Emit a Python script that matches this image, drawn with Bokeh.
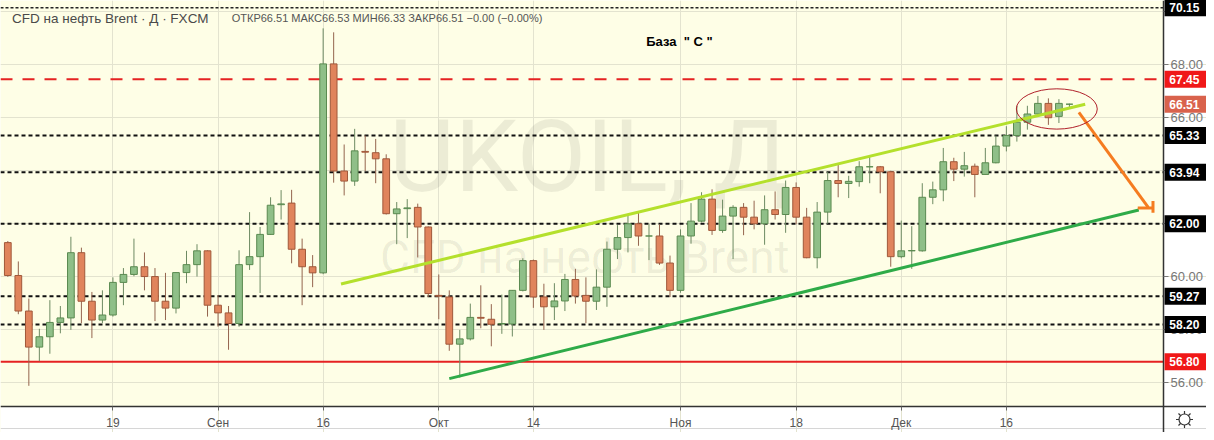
from bokeh.plotting import figure
from bokeh.models import Range1d, FixedTicker, Label, CustomJSTickFormatter, LinearAxis, Grid
from bokeh.core.properties import value
from bokeh.embed import file_html
from bokeh.resources import INLINE

# ---------------- data (daily CFD Brent, Aug 5 .. Dec 24 2019, trading days) ----------------
opens = [61.29, 60.05, 58.71, 57.35, 57.74, 58.28, 58.45, 60.91, 59.08, 58.37,
         58.56, 59.79, 60.09, 60.38, 60.01, 59.08, 58.82, 60.16, 60.46, 60.98,
         58.93, 58.64, 58.24, 60.46, 60.76, 61.60, 62.72, 62.78, 61.04, 60.38,
         60.15, 68.03, 63.99, 63.61, 64.73, 64.68, 64.45, 62.38, 62.57, 62.62,
         61.88, 59.30, 59.24, 57.46, 57.66, 58.47, 58.40, 58.22, 58.22, 59.49,
         60.61, 59.24, 58.87, 59.09, 59.90, 59.30, 59.08, 59.61, 61.04, 61.48,
         62.00, 61.54, 61.54, 60.52, 59.49, 61.54, 62.10, 62.93, 61.75, 62.29,
         62.62, 62.25, 62.00, 62.53, 62.35, 63.37, 62.25, 60.72, 62.44, 63.63,
         63.52, 63.59, 64.15, 64.15, 63.96, 60.76, 60.98, 60.98, 63.00, 63.28,
         64.34, 64.06, 64.17, 63.86, 64.30, 64.93, 65.33, 65.83, 66.14, 66.54,
         66.05, 66.51]
highs = [61.35, 60.58, 59.18, 58.04, 59.12, 58.90, 61.51, 61.10, 59.43, 59.49,
         59.98, 60.33, 61.44, 60.92, 60.33, 60.15, 60.18, 60.98, 61.23, 61.00,
         59.31, 58.90, 61.00, 62.44, 61.88, 63.00, 63.27, 63.28, 61.44, 60.82,
         69.37, 69.22, 64.99, 65.58, 65.33, 65.20, 64.62, 62.82, 62.93, 62.76,
         61.90, 60.09, 59.49, 58.00, 58.99, 59.68, 58.97, 59.33, 59.50, 60.70,
         60.65, 59.74, 59.76, 60.11, 60.30, 59.98, 60.28, 61.33, 61.95, 62.37,
         62.41, 62.00, 61.98, 60.80, 61.79, 62.78, 63.19, 63.30, 62.91, 62.70,
         62.78, 62.87, 63.07, 63.22, 63.63, 63.56, 62.60, 62.82, 63.96, 64.23,
         63.81, 64.36, 64.58, 64.18, 64.00, 62.12, 61.91, 63.53, 63.59, 64.86,
         64.49, 64.71, 64.27, 64.86, 65.33, 65.68, 66.45, 66.45, 66.82, 66.73,
         66.70, 66.53]
lows = [60.00, 58.59, 55.89, 56.82, 57.10, 57.87, 58.00, 58.25, 57.69, 58.25,
        58.50, 58.93, 60.02, 59.49, 58.33, 58.37, 58.62, 59.76, 60.01, 58.50,
        58.12, 57.25, 58.12, 60.26, 59.39, 61.58, 62.16, 60.51, 58.93, 59.61,
        60.10, 63.55, 63.07, 63.43, 63.99, 63.53, 62.35, 61.23, 61.46, 60.73,
        59.24, 58.40, 57.21, 56.20, 57.60, 58.06, 57.38, 57.85, 57.75, 59.45,
        58.83, 58.00, 58.37, 58.71, 58.99, 58.25, 58.75, 58.87, 60.67, 60.92,
        61.17, 60.63, 60.45, 59.24, 59.40, 61.25, 62.05, 61.58, 61.66, 60.67,
        61.57, 61.79, 61.21, 62.16, 61.66, 61.98, 60.70, 60.32, 62.00, 63.00,
        62.97, 63.40, 63.53, 63.15, 60.38, 60.70, 60.30, 60.95, 62.74, 62.85,
        63.61, 63.78, 63.00, 63.85, 64.28, 64.73, 65.10, 65.55, 66.10, 65.73,
        65.80, 66.33]
closes = [60.05, 58.71, 57.35, 57.74, 58.28, 58.45, 60.91, 59.08, 58.37, 58.56,
          59.79, 60.09, 60.38, 60.01, 59.08, 58.82, 60.16, 60.46, 60.98, 58.93,
          58.64, 58.24, 60.46, 60.76, 61.60, 62.70, 62.75, 61.04, 60.38, 60.15,
          68.03, 63.99, 63.61, 64.75, 64.70, 64.45, 62.38, 62.56, 62.60, 61.88,
          59.37, 59.27, 57.46, 57.66, 58.47, 58.44, 58.21, 58.24, 59.49, 60.61,
          59.24, 58.87, 59.09, 59.90, 59.28, 59.08, 59.61, 61.04, 61.48, 62.00,
          61.54, 61.54, 60.52, 59.49, 61.54, 62.10, 62.93, 61.75, 62.29, 62.62,
          62.25, 62.00, 62.53, 62.35, 63.37, 62.25, 60.72, 62.44, 63.63, 63.52,
          63.60, 64.15, 64.15, 63.96, 60.76, 60.98, 60.99, 63.00, 63.28, 64.34,
          64.06, 64.19, 63.86, 64.30, 64.93, 65.33, 65.83, 66.14, 66.54, 66.00,
          66.54, 66.51]

x_tick_pos = [10, 20, 30, 41, 50, 64, 75, 85, 95]
x_tick_labels = ["19", "Сен", "16", "Окт", "14", "Ноя", "18", "Дек", "16"]
y_ticks = [56, 58, 60, 62, 64, 66, 68, 70]

black_levels = [65.33, 63.94, 62.00, 59.27, 58.20]
top_level = 70.15
red_dashed_level = 67.45
red_solid_level = 56.80
last_price = 66.51

# hand-drawn annotations (bar index, price)
upper_trend_x = [31.7, 102.5]
upper_trend_y = [59.73, 66.51]
lower_trend_x = [42.0, 107.6]
lower_trend_y = [56.16, 62.52]
arrow_x = [101.9, 108.5]
arrow_y = [66.20, 62.62]
arrow_bar_x = [107.5, 109.0]
arrow_bar_y = [62.60, 62.60]
arrow_tick_x = [108.95, 108.95]
arrow_tick_y = [62.86, 62.42]
ellipse_center = (99.8, 66.33)
ellipse_size = (7.7, 1.52)

title_main = "CFD на нефть Brent · Д · FXCM"
title_ohlc = "ОТКР66.51  МАКС66.53  МИН66.33  ЗАКР66.51  −0.00 (−0.00%)"
note_text = "База\u00a0\u00a0\"\u00a0С\u00a0\""
watermark_1 = "UKOIL, Д"
watermark_2 = "CFD на нефть Brent"

# ---------------- geometry ----------------
W, H = 1206, 432
PANE_R, PANE_B = 1163, 406          # price pane right / bottom edge (px)
X0, X1 = -0.696, 109.95             # bar index at pane left / right edge
Y1, Y0 = 70.42, 55.11               # price at pane top / bottom edge
PX_PER_BAR = PANE_R / (X1 - X0)
PX_PER_UNIT = PANE_B / (Y1 - Y0)
XE = X0 + W / PX_PER_BAR            # right edge of canvas
YE = Y1 - H / PX_PER_UNIT           # bottom edge of canvas

p = figure(width=W, height=H, x_range=Range1d(X0, XE), y_range=Range1d(YE, Y1),
           output_backend="svg", toolbar_location=None,
           x_axis_location=None, y_axis_location=None,
           min_border_left=0, min_border_top=0, min_border_right=0, min_border_bottom=0)
p.background_fill_color = "#fefee6"
p.border_fill_color = "white"
p.outline_line_color = None
p.center = [r for r in p.center if not isinstance(r, Grid)]

p.add_layout(Grid(dimension=0, ticker=FixedTicker(ticks=x_tick_pos),
                  grid_line_color="#e3e3cf", grid_line_width=1))
p.add_layout(Grid(dimension=1, ticker=FixedTicker(ticks=y_ticks),
                  grid_line_color="#e3e3cf", grid_line_width=1))

# white scale strips (right price scale, bottom time scale)
p.quad(left=[X1], right=[XE], bottom=[YE], top=[Y1], fill_color="white",
       line_color=None, level="underlay")
p.quad(left=[X0], right=[XE], bottom=[YE], top=[Y0], fill_color="white",
       line_color=None, level="underlay")
y_bottom_rule = Y0 - 22 / PX_PER_UNIT
p.segment(x0=[X0], x1=[XE], y0=[y_bottom_rule], y1=[y_bottom_rule],
          line_color="#d6d6d6", line_width=1)

# axes drawn at fixed positions
xaxis = LinearAxis(fixed_location=Y0, ticker=FixedTicker(ticks=x_tick_pos))
xaxis.major_label_overrides = {k: v for k, v in zip(x_tick_pos, x_tick_labels)}
xaxis.minor_tick_line_color = None
xaxis.major_tick_in = 0
xaxis.major_tick_out = 4
xaxis.major_tick_line_color = "#666"
xaxis.axis_line_color = "#333"
xaxis.axis_line_width = 1.5
xaxis.major_label_text_font = "Liberation Sans Narrow, Liberation Sans"
xaxis.major_label_text_font_size = "12px"
xaxis.major_label_text_color = "#555"
xaxis.major_label_standoff = 5
p.add_layout(xaxis, "below")

yaxis = LinearAxis(fixed_location=X1, ticker=FixedTicker(ticks=y_ticks))
yaxis.formatter = CustomJSTickFormatter(code="return tick.toFixed(2);")
yaxis.minor_tick_line_color = None
yaxis.major_tick_in = 0
yaxis.major_tick_out = 5
yaxis.major_tick_line_color = "#777"
yaxis.axis_line_color = "#333"
yaxis.axis_line_width = 1.5
yaxis.major_label_text_font = "Liberation Sans"
yaxis.major_label_text_font_size = "13px"
yaxis.major_label_text_color = "#777"
yaxis.major_label_standoff = 2
p.add_layout(yaxis, "right")

# watermark (beneath candles)
p.add_layout(Label(x=55.3, y=64.53, text=watermark_1, text_font="Roboto", text_font_size="101px",
                   text_color="black", text_alpha=0.07, text_align="center",
                   text_baseline="middle", level="underlay"))
p.add_layout(Label(x=54.9, y=60.73, text=watermark_2, text_font="Roboto", text_font_size="46px",
                   text_color="black", text_alpha=0.07, text_align="center",
                   text_baseline="middle", level="underlay"))

# horizontal levels across the price pane
nb = len(black_levels)
p.segment(x0=[X0], x1=[X1], y0=[top_level], y1=[top_level], line_color="#222",
          line_width=1.5, line_dash="3 2")
p.segment(x0=[X0] * nb, x1=[X1] * nb, y0=black_levels, y1=black_levels, line_color="#111",
          line_width=2, line_dash="4 3")
p.segment(x0=[X0], x1=[X1], y0=[red_dashed_level], y1=[red_dashed_level],
          line_color="#e52222", line_width=2, line_dash="12 10")
p.segment(x0=[X0], x1=[X1], y0=[red_solid_level], y1=[red_solid_level],
          line_color="#e52222", line_width=2)

# candles
idx = list(range(len(opens)))
up = [c >= o for o, c in zip(opens, closes)]
G_FILL, G_LINE, G_WICK = "#8fbf88", "#5a8a50", "#6d8a62"
R_FILL, R_LINE, R_WICK = "#e0845c", "#a0583a", "#94644e"
wick_col = [G_WICK if u else R_WICK for u in up]
fill_col = [G_FILL if u else R_FILL for u in up]
line_col = [G_LINE if u else R_LINE for u in up]
tops = [max(o, c) for o, c in zip(opens, closes)]
bots = [min(o, c) for o, c in zip(opens, closes)]
p.segment(x0=idx, y0=lows, x1=idx, y1=highs, line_color=wick_col, line_width=1)
p.vbar(x=idx, top=tops, bottom=bots, width=0.64, fill_color=fill_col,
       line_color=line_col, line_width=1)

# trend lines & drawings
p.line(upper_trend_x, upper_trend_y, line_color="#b4e02c", line_width=3)
p.line(lower_trend_x, lower_trend_y, line_color="#2eab48", line_width=3)
p.line(arrow_x, arrow_y, line_color="#f57c20", line_width=3)
p.line(arrow_bar_x, arrow_bar_y, line_color="#f57c20", line_width=3)
p.line(arrow_tick_x, arrow_tick_y, line_color="#f57c20", line_width=3)
p.ellipse(x=[ellipse_center[0]], y=[ellipse_center[1]], width=ellipse_size[0],
          height=ellipse_size[1], fill_alpha=0, line_color="#b0202a", line_width=1)

# header texts
p.add_layout(Label(x=0.4, y=69.75, text=title_main, text_font="Liberation Sans",
                   text_font_size="13.5px", text_color="#4a4a4a", text_baseline="middle"))
p.add_layout(Label(x=21.3, y=69.75, text=title_ohlc, text_font="Liberation Sans",
                   text_font_size="11px", text_color="#555", text_baseline="middle"))
p.add_layout(Label(x=63.9, y=68.89, text=note_text, text_font="Liberation Sans",
                   text_font_size="13px", text_font_style="bold", text_color="black",
                   text_align="center", text_baseline="middle"))

# price badges on the price scale
badge_levels = [top_level] + black_levels + [red_dashed_level, red_solid_level, last_price]
badge_colors = ["black"] * (1 + nb) + ["#f01818", "#f01818", "#d9624c"]
badge_texts = [f"{lv:.2f}" for lv in badge_levels]
p.rect(x=[(X1 + XE) / 2 + 0.05] * len(badge_levels), y=badge_levels, width=XE - X1 - 0.1,
       height=17, height_units="screen", fill_color=badge_colors, line_color=None,
       level="overlay")
p.text(x=[X1 + 0.55] * len(badge_levels), y=badge_levels, text=badge_texts,
       text_font=value("Liberation Sans"), text_font_size="12px", text_font_style="bold",
       text_color="white", text_baseline="middle", text_align="left", level="overlay")

# settings icon in the corner (sun-like gear)
icon_x = [X0 + (PANE_R + 21) / PX_PER_BAR]
icon_y = [Y0 - 13 / PX_PER_UNIT]
p.scatter(x=icon_x, y=icon_y, marker="asterisk", size=17, line_color="#333",
          line_width=1.2, level="overlay")
p.scatter(x=icon_x, y=icon_y, marker="circle", size=11, fill_color="white",
          line_color="#333", line_width=1.2, level="overlay")

open("out.html", "w").write(file_html(p, INLINE))
